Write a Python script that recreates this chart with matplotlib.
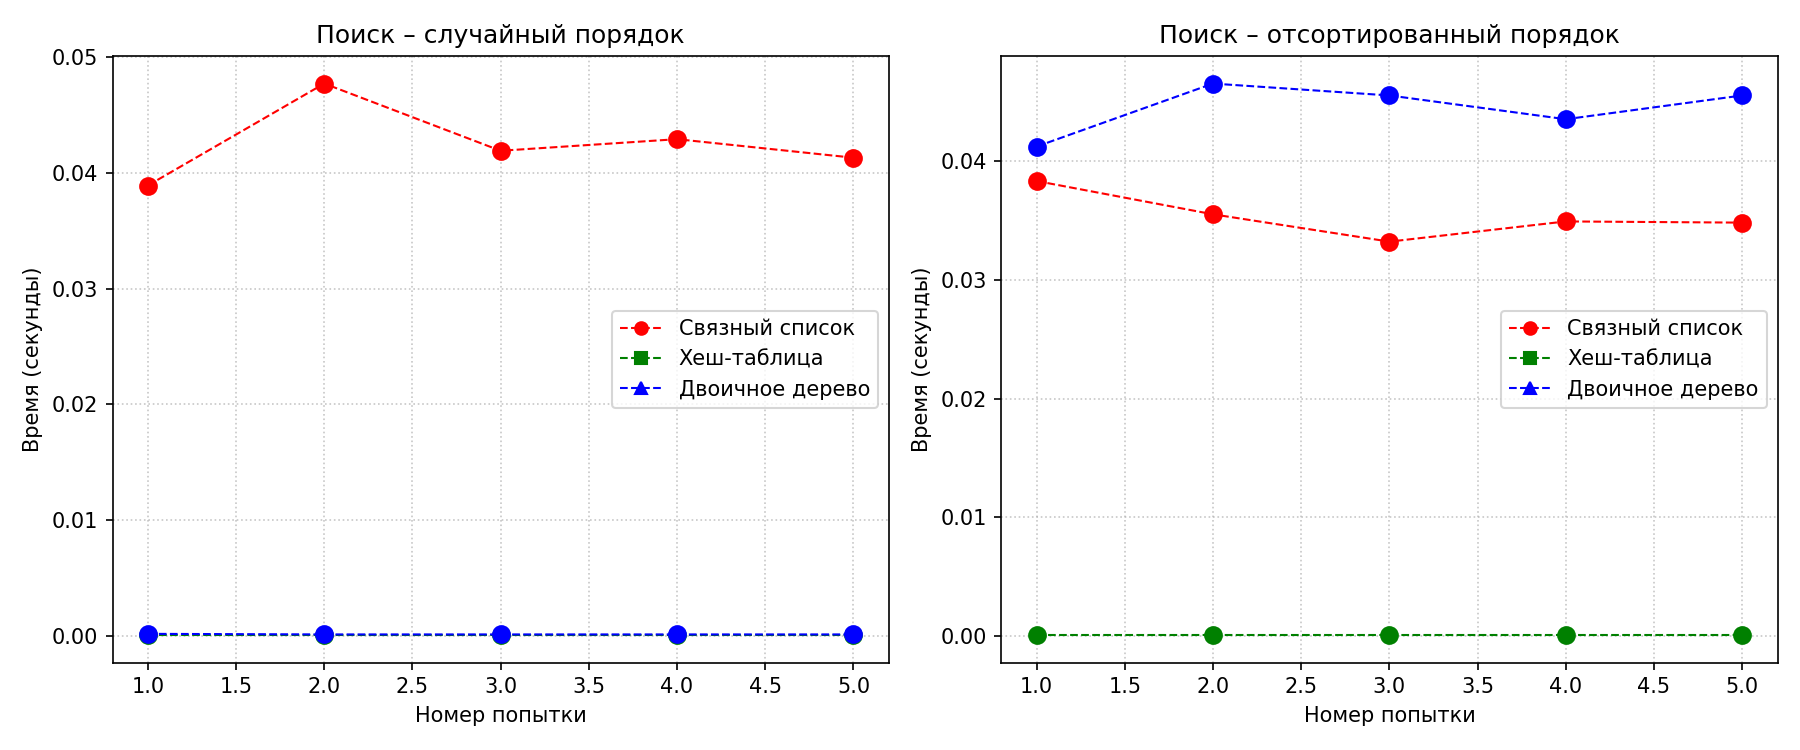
"""Search timing comparison: random vs sorted insertion order."""

import matplotlib
matplotlib.use('Agg')
import matplotlib.pyplot as plt
from matplotlib.lines import Line2D

attempts = [1, 2, 3, 4, 5]

# random order
rand_list = [0.0389, 0.0477, 0.0419, 0.0429, 0.0413]
rand_hash = [0.0001, 0.0001, 0.0001, 0.0001, 0.0001]
rand_tree = [0.0002, 0.00015, 0.00015, 0.00015, 0.00015]

# sorted order
sort_list = [0.0383, 0.0355, 0.0332, 0.0349, 0.0348]
sort_hash = [0.0001, 0.0001, 0.0001, 0.0001, 0.0001]
sort_tree = [0.0412, 0.0465, 0.0455, 0.0435, 0.0455]

labels = ['Связный список', 'Хеш-таблица', 'Двоичное дерево']
colors = ['red', 'green', 'blue']
legend_markers = ['o', 's', '^']

panels = [
    ('Поиск – случайный порядок', [rand_list, rand_hash, rand_tree]),
    ('Поиск – отсортированный порядок', [sort_list, sort_hash, sort_tree]),
]

fig, axes = plt.subplots(1, 2, figsize=(12, 5))

for ax, (title, series) in zip(axes, panels):
    for values, color in zip(series, colors):
        ax.plot(attempts, values, linestyle='--', color=color, linewidth=1,
                marker='o', markersize=8)
    handles = [Line2D([], [], linestyle='--', color=c, linewidth=1, marker=m)
               for c, m in zip(colors, legend_markers)]
    ax.legend(handles, labels, loc='center right')
    ax.set_title(title)
    ax.set_xlabel('Номер попытки')
    ax.set_ylabel('Время (секунды)')
    ax.grid(True, linestyle=':', alpha=0.7)

fig.tight_layout()
fig.savefig('out.png', dpi=150)
plt.close(fig)
